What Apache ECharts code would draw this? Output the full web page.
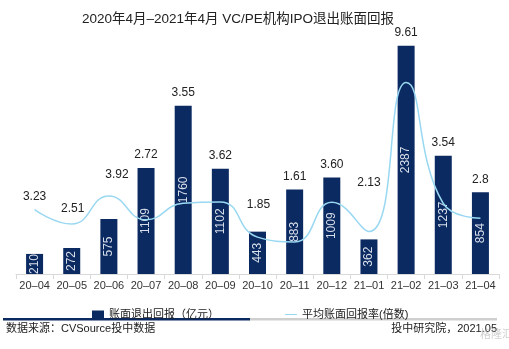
<!DOCTYPE html>
<html>
<head>
<meta charset="utf-8">
<script src="https://cdn.jsdelivr.net/npm/echarts@6/dist/echarts.min.js"></script>
<style>
  html, body { margin: 0; padding: 0; background: #fff; }
  #chart { width: 509px; height: 349px; }
</style>
</head>
<body>
<div id="chart"></div>
<script>
// Monthly IPO exits of VC/PE funds, Apr 2020 – Apr 2021
const months = ['20–04', '20–05', '20–06', '20–07', '20–08', '20–09', '20–10',
                '20–11', '20–12', '21–01', '21–02', '21–03', '21–04'];
// Book exit return, 100 million yuan
const bookReturn = [210, 272, 575, 1109, 1760, 1102, 443, 883, 1009, 362, 2387, 1237, 854];
// Average book return multiple
const returnMultiple = [3.23, 2.51, 3.92, 2.72, 3.55, 3.62, 1.85, 1.61, 3.60, 2.13, 9.61, 3.54, 2.8];
// Multiple labels shown with two decimals where the source reports them so
const multipleText = ['3.23', '2.51', '3.92', '2.72', '3.55', '3.62', '1.85', '1.61', '3.60', '2.13', '9.61', '3.54', '2.8'];

const NAVY = '#0b2a61';
const SKY = '#9ad8f2';
const FONT = '"Liberation Sans", "Noto Sans CJK SC", sans-serif';

// Lift some multiple labels clear of the curve: [dx, dy]
const labelShift = {0: [0, -44], 1: [1, -26], 2: [8, -31], 6: [1, -14], 9: [0, -44]};

const chart = echarts.init(document.getElementById('chart'), null, { renderer: 'canvas' });

chart.setOption({
  animation: false,
  textStyle: { fontFamily: FONT },
  title: {
    text: '2020年4月–2021年4月 VC/PE机构IPO退出账面回报',
    left: 77,
    top: 8,
    textStyle: { fontSize: 13.5, fontWeight: 'normal', color: '#222', fontFamily: FONT }
  },
  grid: { left: 16, right: 10, top: 35, bottom: 75 },
  legend: {
    left: 87,
    top: 304,
    itemGap: 66,
    itemWidth: 12,
    itemHeight: 8,
    textStyle: { fontSize: 11, color: '#222', fontFamily: FONT },
    data: [
      { name: '账面退出回报（亿元）', icon: 'rect' },
      { name: '平均账面回报率(倍数)', icon: 'path://M0,0H24V2H0Z' }
    ]
  },
  xAxis: {
    type: 'category',
    data: months,
    axisLine: { lineStyle: { color: '#d9d9d9', width: 1 } },
    axisTick: { show: true, length: 5, lineStyle: { color: '#d9d9d9' } },
    axisLabel: { color: '#333', fontSize: 11, margin: 6, interval: 0, fontFamily: FONT }
  },
  yAxis: [
    { type: 'value', min: 0, max: 2500, show: false },
    { type: 'value', min: 0, max: 12, show: false }
  ],
  series: [
    {
      name: '账面退出回报（亿元）',
      type: 'bar',
      data: bookReturn,
      barWidth: 17,
      itemStyle: { color: NAVY },
      label: {
        show: true,
        position: 'inside',
        rotate: 90,
        color: '#d8deea',
        fontSize: 12,
        fontFamily: FONT
      },
      z: 2
    },
    {
      // transparent overlay carrying the multiple labels above each bar
      name: 'multipleLabels',
      type: 'bar',
      data: bookReturn.map((v, i) => {
        const s = labelShift[i] || [0, 0];
        return { value: v, label: { offset: s } };
      }),
      barWidth: 17,
      barGap: '-100%',
      itemStyle: { color: 'rgba(0,0,0,0)' },
      label: {
        show: true,
        position: 'top',
        distance: 7,
        color: '#222',
        fontSize: 12,
        fontFamily: FONT,
        formatter: p => multipleText[p.dataIndex]
      },
      legendHoverLink: false,
      silent: true,
      z: 1
    },
    {
      name: '平均账面回报率(倍数)',
      type: 'line',
      yAxisIndex: 1,
      data: returnMultiple,
      smooth: 0.5,
      symbol: 'none',
      showSymbol: false,
      lineStyle: { color: SKY, width: 1.5 },
      itemStyle: { color: SKY },
      z: 5
    }
  ],
  graphic: [
    { type: 'rect', shape: { x: 3, y: 318, width: 247, height: 2.5 }, style: { fill: NAVY } },
    { type: 'rect', shape: { x: 250, y: 318, width: 247, height: 2.5 }, style: { fill: '#cfcfcf' } },
    {
      type: 'text', left: 6, top: 323,
      style: { text: '数据来源：CVSource投中数据', fontSize: 11, fill: '#222', fontFamily: FONT }
    },
    {
      type: 'text', right: 12, top: 323,
      style: { text: '投中研究院，2021.05', fontSize: 11, fill: '#222', fontFamily: FONT }
    },
    {
      type: 'text', right: -4, top: 329,
      style: { text: '格隆汇', fontSize: 11, fill: 'rgba(170,170,170,0.55)', fontFamily: FONT }
    }
  ]
});
</script>
</body>
</html>
